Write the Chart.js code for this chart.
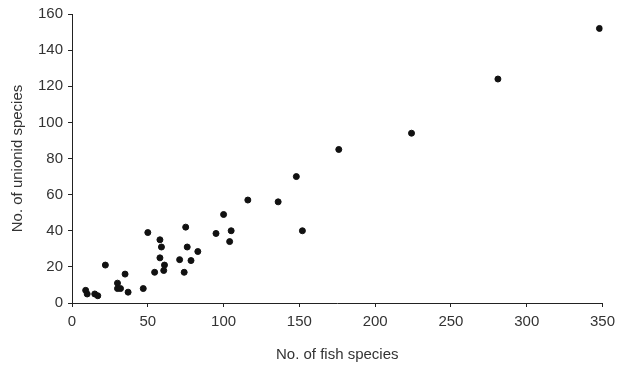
<!DOCTYPE html>
<html lang="en">
<head>
  <meta charset="UTF-8">
  <title>Unionid vs fish species</title>
  <script src="https://cdn.jsdelivr.net/npm/chart.js"></script>
  <style>
    html, body {
      margin: 0;
      padding: 0;
      background: #fff;
    }
    .chart-container {
      width: 621px;
      height: 366px;
    }
  </style>
</head>
<body>
  <div class="chart-container">
    <canvas id="scatterChart"></canvas>
  </div>

  <script>
    // values
    const fishSpecies = [9, 10, 15, 17, 22, 30, 30, 32, 35, 37, 47, 50, 54.5, 58, 59, 58, 61, 60.5,
      71, 74, 75, 76, 78.5, 83, 95, 100, 105, 104, 116, 136, 148, 152, 176, 224, 281, 348];
    const unionidSpecies = [7, 5, 5, 4, 21, 11, 8, 8, 16, 6, 8, 39, 17, 35, 31, 25, 21, 18,
      24, 17, 42, 31, 23.5, 28.5, 38.5, 49, 40, 34, 57, 56, 70, 40, 85, 94, 124, 152];
    const xTicks = [0, 50, 100, 150, 200, 250, 300, 350];
    const yTicks = [0, 20, 40, 60, 80, 100, 120, 140, 160];

    const points = fishSpecies.map((x, i) => ({ x: x, y: unionidSpecies[i] }));
    const font = { family: "'Liberation Sans', Arial, sans-serif", size: 15 };

    const ctx = document.getElementById('scatterChart').getContext('2d');
    new Chart(ctx, {
      type: 'scatter',
      data: {
        datasets: [{
          data: points,
          backgroundColor: '#111',
          borderColor: '#111',
          pointRadius: 3,
          pointHoverRadius: 3
        }]
      },
      options: {
        responsive: true,
        maintainAspectRatio: false,
        animation: false,
        layout: { padding: { top: 9, right: 6, left: 5, bottom: 2 } },
        plugins: {
          legend: { display: false },
          tooltip: { enabled: false }
        },
        scales: {
          x: {
            type: 'linear',
            min: 0,
            max: 350,
            afterBuildTicks: (axis) => { axis.ticks = xTicks.map(v => ({ value: v })); },
            border: { display: true, color: '#222', width: 1 },
            grid: { display: true, drawOnChartArea: false, drawTicks: true, tickLength: 4, color: '#222' },
            ticks: { color: '#333', font: font, padding: 6 },
            title: { display: true, text: 'No. of fish species', color: '#333', font: font, padding: { top: 9, bottom: 0 } }
          },
          y: {
            type: 'linear',
            min: 0,
            max: 160,
            afterBuildTicks: (axis) => { axis.ticks = yTicks.map(v => ({ value: v })); },
            border: { display: true, color: '#222', width: 1 },
            grid: { display: true, drawOnChartArea: false, drawTicks: true, tickLength: 4, color: '#222' },
            ticks: { color: '#333', font: font, padding: 5 },
            title: { display: true, text: 'No. of unionid species', color: '#333', font: font, padding: { bottom: 6 } }
          }
        }
      }
    });
  </script>
</body>
</html>
